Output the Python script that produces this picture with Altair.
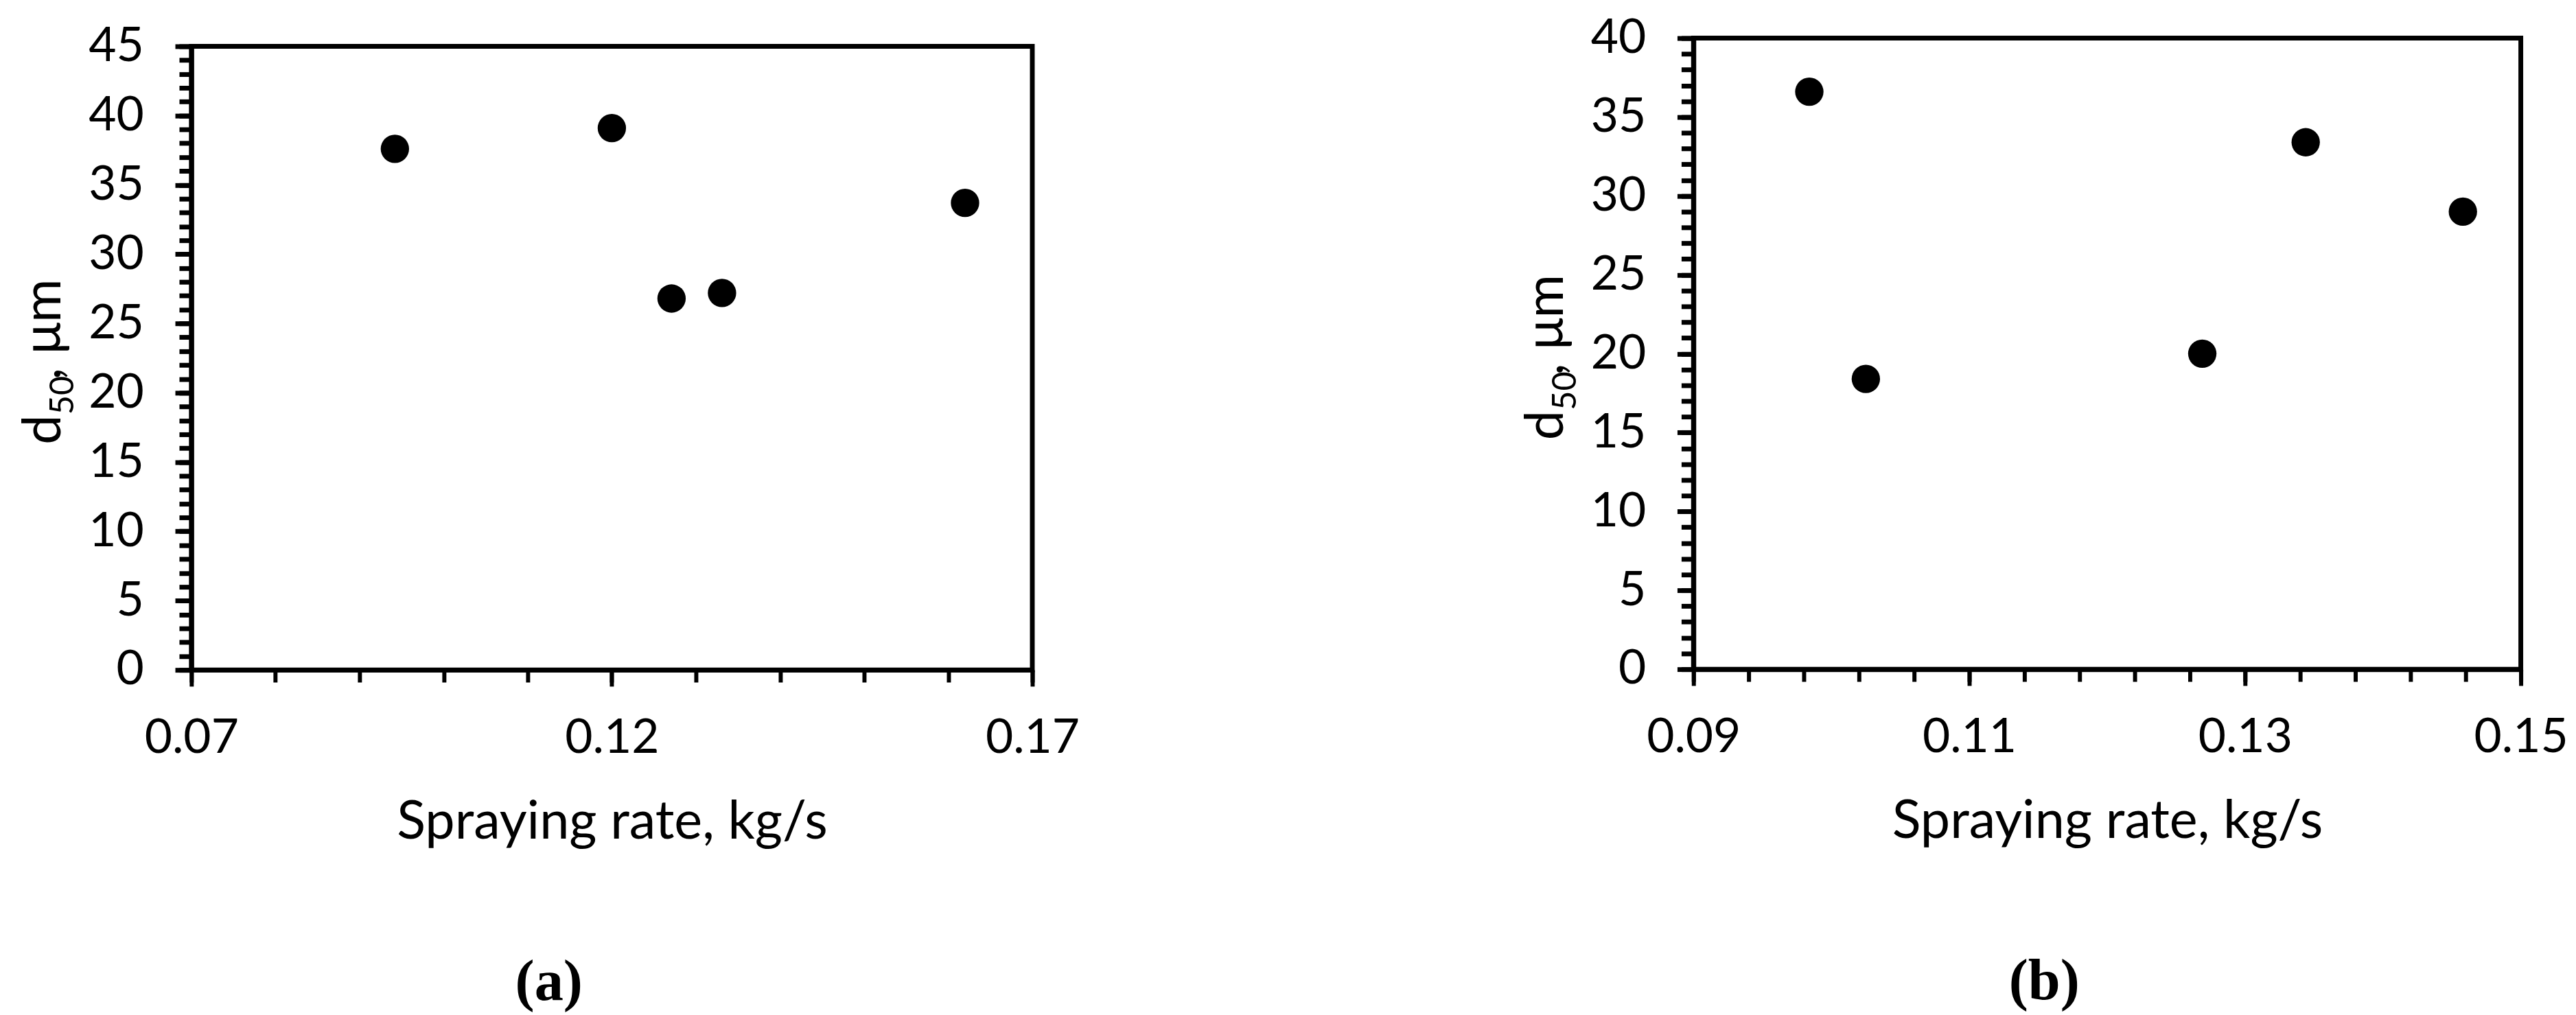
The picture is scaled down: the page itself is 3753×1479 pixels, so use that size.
import altair as alt
import pandas as pd

# ---------------- data ----------------
a_rate = [0.0942, 0.1200, 0.1271, 0.1331, 0.1620]
a_d50 = [37.6, 39.1, 26.8, 27.2, 33.7]

b_rate = [0.0984, 0.1025, 0.1269, 0.1344, 0.1458]
b_d50 = [36.6, 18.4, 20.0, 33.4, 29.0]

a_x_domain = [0.07, 0.17]
a_x_major = [0.07, 0.12, 0.17]
a_x_minor = [0.07, 0.08, 0.09, 0.10, 0.11, 0.12, 0.13, 0.14, 0.15, 0.16, 0.17]
a_y_major = [0, 5, 10, 15, 20, 25, 30, 35, 40, 45]
a_y_minor = list(range(0, 46))

b_x_domain = [0.09, 0.15]
b_x_major = [0.09, 0.11, 0.13, 0.15]
b_x_minor = [0.09, 0.094, 0.098, 0.102, 0.106, 0.11, 0.114, 0.118, 0.122,
             0.126, 0.13, 0.134, 0.138, 0.142, 0.146, 0.15]
b_y_major = [0, 5, 10, 15, 20, 25, 30, 35, 40]
b_y_minor = list(range(0, 41))

x_title = "Spraying rate, kg/s"
y_title_parts = ["d", "50", ", μm"]   # d + subscript 50 + ", μm"

FONT = "Lato"
LABEL_SIZE = 70
TITLE_SIZE = 78
SUB_SIZE = 49


def panel(rates, d50s, xdom, xmaj, xmin, ymax, ymaj, ymin, w, h, caption):
    df = pd.DataFrame({"rate": rates, "d50": d50s})
    xs = alt.Scale(domain=xdom, nice=False, zero=False)
    ys = alt.Scale(domain=[0, ymax], nice=False, zero=True)
    base = alt.Chart(df)

    pts = base.mark_circle(size=1735, color="black", opacity=1).encode(
        x=alt.X("rate:Q", scale=xs, axis=alt.Axis(
            orient="bottom", values=xmaj, format=".2f", title=x_title,
            tickSize=24, tickWidth=6, tickColor="black",
            domain=True, domainWidth=7, domainColor="black",
            labelFlush=False, labelOverlap=False, labelPadding=42,
            labelFont=FONT, labelFontSize=LABEL_SIZE, labelColor="black",
            titleFont=FONT, titleFontSize=TITLE_SIZE, titleFontWeight="normal",
            titleColor="black", titlePadding=50, grid=False)),
        y=alt.Y("d50:Q", scale=ys, axis=alt.Axis(
            orient="left", values=ymaj, format="d", title=None,
            tickSize=24, tickWidth=7, tickColor="black",
            domain=True, domainWidth=7, domainColor="black",
            labelOverlap=False, labelPadding=46,
            labelFont=FONT, labelFontSize=LABEL_SIZE, labelColor="black",
            grid=False)),
    )

    minor = base.mark_circle(opacity=0).encode(
        x=alt.X("rate:Q", scale=xs, axis=alt.Axis(
            orient="bottom", values=xmin, labels=False, title=None,
            tickSize=18, tickWidth=6, tickColor="black",
            domain=False, grid=False)),
        y=alt.Y("d50:Q", scale=ys, axis=alt.Axis(
            orient="left", values=ymin, labels=False, title=None,
            tickSize=18, tickWidth=7, tickColor="black",
            domain=False, grid=False)),
    )

    # rotated y-axis title built from three text pieces (main, subscript, rest)
    cy = h / 2
    t_main = alt.Chart().mark_text(
        text=y_title_parts[0], angle=270, align="left", baseline="alphabetic",
        font=FONT, fontSize=TITLE_SIZE, color="black"
    ).encode(x=alt.value(-192), y=alt.value(cy + 127))
    t_sub = alt.Chart().mark_text(
        text=y_title_parts[1], angle=270, align="left", baseline="alphabetic",
        font=FONT, fontSize=SUB_SIZE, color="black"
    ).encode(x=alt.value(-173), y=alt.value(cy + 83))
    t_rest = alt.Chart().mark_text(
        text=y_title_parts[2], angle=270, align="left", baseline="alphabetic",
        font=FONT, fontSize=TITLE_SIZE, color="black"
    ).encode(x=alt.value(-192), y=alt.value(cy + 32))

    return alt.layer(minor, pts, t_main, t_sub, t_rest).resolve_axis(
        x="independent", y="independent"
    ).properties(
        width=w, height=h,
        view=alt.ViewBackground(stroke="black", strokeWidth=7),
        title=alt.TitleParams(
            caption, orient="bottom", anchor="middle", frame="bounds",
            font="Liberation Serif", fontSize=85, fontWeight="bold",
            color="black", offset=155),
    )


def spacer():
    return alt.Chart().mark_text(
        text=" ", baseline="top", align="left", fontSize=1, opacity=0
    ).encode(x=alt.value(0), y=alt.value(0)).properties(
        width=1, height=1,
        view=alt.ViewBackground(stroke="transparent"))


pa = panel(a_rate, a_d50, a_x_domain, a_x_major, a_x_minor, 45,
           a_y_major, a_y_minor, 1235, 916, "(a)")
pb = panel(b_rate, b_d50, b_x_domain, b_x_major, b_x_minor, 40,
           b_y_major, b_y_minor, 1215, 927, "(b)")

col_a = alt.vconcat(spacer(), pa, spacing=12)
col_b = alt.vconcat(spacer(), pb, spacing=0)

chart = alt.hconcat(col_a, col_b, spacing=640).properties(
    padding={"left": 15, "top": 0, "right": 0, "bottom": 0},
    background="white",
).configure_view(stroke="transparent")

chart.save("out.html", embed_options={"renderer": "svg", "actions": False})
